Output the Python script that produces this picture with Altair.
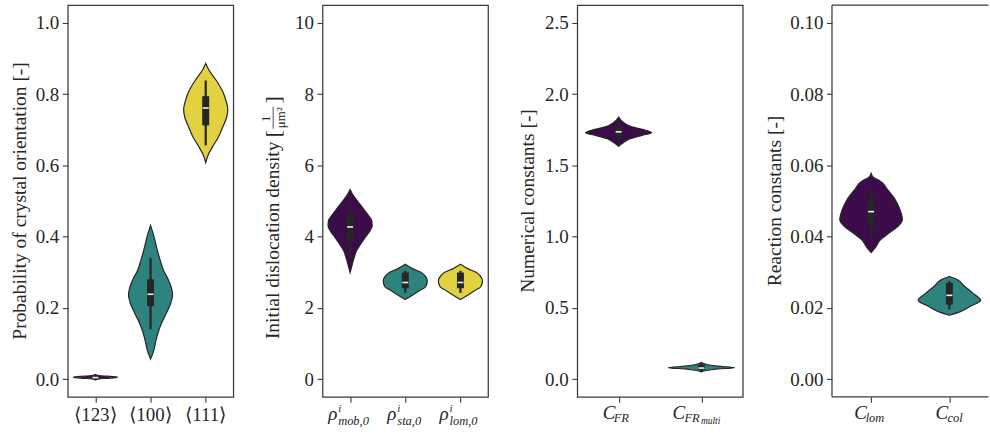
import altair as alt
import pandas as pd

FONT = "Liberation Serif"
INK = "#3a3a3a"
BOXC = "#262626"
TXT = "#262626"

# ---------------- data ----------------
# Panel 1 : crystal orientation probability
p1_cats = ["⟨123⟩", "⟨100⟩", "⟨111⟩"]
p1_colors = ["#3c0b4a", "#2f837f", "#e2d140"]
p1_123_v = [-0.003, 0.0, 0.002, 0.004, 0.005, 0.006, 0.008, 0.010, 0.013]
p1_123_w = [0.0, 0.15, 0.5, 0.9, 1.0, 0.9, 0.5, 0.15, 0.0]
p1_100_v = [0.056, 0.077, 0.101, 0.128, 0.156, 0.184, 0.212, 0.236, 0.259, 0.282, 0.306, 0.333, 0.361, 0.399, 0.431]
p1_100_w = [0.0, 0.13, 0.22, 0.33, 0.49, 0.71, 0.91, 1.0, 0.93, 0.78, 0.58, 0.44, 0.31, 0.16, 0.0]
p1_111_v = [0.608, 0.629, 0.651, 0.679, 0.707, 0.735, 0.757, 0.779, 0.807, 0.838, 0.866, 0.886]
p1_111_w = [0.0, 0.11, 0.30, 0.57, 0.77, 0.95, 1.0, 0.93, 0.77, 0.48, 0.16, 0.0]
p1_q1 = [0.002, 0.205, 0.712]
p1_med = [0.004, 0.238, 0.761]
p1_q3 = [0.007, 0.280, 0.794]
p1_lo = [0.000, 0.140, 0.656]
p1_hi = [0.010, 0.340, 0.838]
p1_ticks = [0.0, 0.2, 0.4, 0.6, 0.8, 1.0]
p1_title = "Probability of crystal orientation [-]"

# Panel 2 : initial dislocation density
p2_main = ["ρ", "ρ", "ρ"]
p2_sup = ["i", "i", "i"]
p2_sub = ["mob,0", "sta,0", "lom,0"]
p2_colors = ["#3c0b4a", "#2f837f", "#e2d140"]
p2_mob_v = [2.99, 3.2, 3.4, 3.6, 3.8, 4.0, 4.15, 4.3, 4.45, 4.6, 4.8, 5.0, 5.2, 5.32]
p2_mob_w = [0.0, 0.09, 0.18, 0.29, 0.49, 0.71, 0.89, 1.0, 0.98, 0.82, 0.58, 0.33, 0.10, 0.0]
p2_sta_v = [2.23, 2.33, 2.47, 2.6, 2.76, 2.9, 3.0, 3.1, 3.22]
p2_sta_w = [0.0, 0.27, 0.62, 0.93, 1.0, 0.89, 0.71, 0.33, 0.0]
p2_lom_v = [2.23, 2.33, 2.47, 2.6, 2.76, 2.9, 3.0, 3.1, 3.22]
p2_lom_w = [0.0, 0.27, 0.62, 0.93, 1.0, 0.89, 0.71, 0.33, 0.0]
p2_q1 = [3.87, 2.55, 2.55]
p2_med = [4.27, 2.71, 2.71]
p2_q3 = [4.60, 2.99, 2.99]
p2_lo = [3.39, 2.42, 2.42]
p2_hi = [4.93, 3.04, 3.04]
p2_ticks = [0, 2, 4, 6, 8, 10]
p2_title = "Initial dislocation density"
p2_unit = ["[", "1", "μm²", "]"]

# Panel 3 : numerical constants
p3_main = ["C", "C"]
p3_sub = ["FR", "FR"]
p3_subsub = ["", "multi"]
p3_colors = ["#3c0b4a", "#2f837f"]
p3_fr_v = [1.633, 1.66, 1.687, 1.71, 1.728, 1.75, 1.77, 1.80, 1.838]
p3_fr_w = [0.0, 0.15, 0.34, 0.70, 1.0, 0.75, 0.40, 0.15, 0.0]
p3_multi_v = [0.05, 0.06, 0.07, 0.08, 0.09, 0.10, 0.116]
p3_multi_w = [0.0, 0.15, 0.45, 1.0, 0.5, 0.2, 0.0]
p3_q1 = [1.70, 0.065]
p3_med = [1.735, 0.077]
p3_q3 = [1.765, 0.100]
p3_lo = [1.665, 0.055]
p3_hi = [1.80, 0.112]
p3_ticks = [0.0, 0.5, 1.0, 1.5, 2.0, 2.5]
p3_title = "Numerical constants [-]"

# Panel 4 : reaction constants
p4_main = ["C", "C"]
p4_sub = ["lom", "col"]
p4_colors = ["#3c0b4a", "#2f837f"]
p4_lom_v = [0.0355, 0.0371, 0.039, 0.0409, 0.0428, 0.0447, 0.0474, 0.0502, 0.053, 0.0558, 0.0565, 0.0577]
p4_lom_w = [0.0, 0.15, 0.29, 0.56, 0.85, 1.0, 0.93, 0.78, 0.54, 0.25, 0.09, 0.0]
p4_col_v = [0.0179, 0.019, 0.0205, 0.0221, 0.0242, 0.026, 0.0279, 0.0288]
p4_col_w = [0.0, 0.37, 0.69, 1.0, 0.74, 0.49, 0.25, 0.0]
p4_q1 = [0.0428, 0.0209]
p4_med = [0.0470, 0.0235]
p4_q3 = [0.0507, 0.0270]
p4_lo = [0.0395, 0.0195]
p4_hi = [0.0535, 0.0275]
p4_ticks = [0.0, 0.02, 0.04, 0.06, 0.08, 0.10]
p4_title = "Reaction constants [-]"

# ---------------- layout ----------------
H = 393
TS = 19.5   # title size
SS = 12.5   # script size


def prof_df(vs, ws):
    rows = []
    for i, (v, w) in enumerate(zip(vs, ws)):
        for a, b in zip(v, w):
            rows.append({"idx": i, "v": a, "w": b})
    return pd.DataFrame(rows)


def stat_df(q1, med, q3, lo, hi):
    return pd.DataFrame({"idx": list(range(len(q1))), "q1": q1, "med": med,
                         "q3": q3, "lo": lo, "hi": hi})


def one(text):
    return pd.DataFrame({"t": [text]})


def panel(width, ncat, prof, stats, colors, ydom, yticks, yfmt, extra, last=False):
    xs = alt.Scale(domain=[-0.5, ncat - 0.5], nice=False, zero=False)
    ys = alt.Scale(domain=ydom, nice=False, zero=False)
    xax = alt.Axis(values=list(range(ncat)), labels=False, ticks=True, domain=False,
                   grid=False, title=None)
    yax = alt.Axis(values=yticks, format=yfmt, domain=False, grid=False, title=None)
    X = lambda f: alt.X(f, scale=xs, axis=xax)
    Y = lambda f: alt.Y(f, scale=ys, axis=yax)

    area = alt.Chart(prof).transform_calculate(
        x1="datum.idx - 0.4 * datum.w", x2="datum.idx + 0.4 * datum.w"
    ).mark_area(orient="horizontal", interpolate="monotone", stroke=BOXC,
                strokeWidth=1.2, opacity=1, clip=last).encode(
        y=Y("v:Q"), x=X("x1:Q"), x2="x2:Q",
        color=alt.Color("idx:N", scale=alt.Scale(domain=list(range(ncat)), range=colors), legend=None),
    )
    whisk = alt.Chart(stats).mark_rule(strokeWidth=2.2, color=BOXC).encode(
        x=X("idx:Q"), y=Y("lo:Q"), y2="hi:Q")
    box = alt.Chart(stats).mark_rule(strokeWidth=7, color=BOXC, strokeCap="butt").encode(
        x=X("idx:Q"), y=Y("q1:Q"), y2="q3:Q")
    med = alt.Chart(stats).mark_point(shape="M-1,0L1,0", size=36, filled=False,
                                      stroke="#f2f2f2", strokeWidth=1.6, opacity=1).encode(
        x=X("idx:Q"), y=Y("med:Q"))
    layers = [area, whisk, box, med]
    for e in extra:
        layers.append(e(X))
    return alt.layer(*layers).properties(width=width, height=H)


def ytitle(text, xpx, ypx=H / 2, size=TS):
    return lambda X: alt.Chart(one(text)).mark_text(
        angle=270, align="center", baseline="middle", font=FONT, fontSize=size, color=TXT
    ).encode(x=alt.value(xpx), y=alt.value(ypx), text="t:N")


def xlabel(idx, text, dx, ypx, size=19, italic=False, align="left"):
    def f(X):
        d = pd.DataFrame({"idx": [idx], "t": [text]})
        return alt.Chart(d).mark_text(
            align=align, baseline="alphabetic", dx=dx, font=FONT, fontSize=size,
            fontStyle="italic" if italic else "normal", color=TXT
        ).encode(x=X("idx:Q"), y=alt.value(ypx), text="t:N")
    return f


# Panel 1
p1_extra = [ytitle(p1_title, -48)]
for i, c in enumerate(p1_cats):
    p1_extra.append(xlabel(i, c, 0, 417, align="center"))
c1 = panel(166, 3, prof_df([p1_123_v, p1_100_v, p1_111_v], [p1_123_w, p1_100_w, p1_111_w]),
           stat_df(p1_q1, p1_med, p1_q3, p1_lo, p1_hi), p1_colors, [-0.05, 1.05], p1_ticks, ".1f",
           p1_extra)

# Panel 2
p2_extra = [ytitle(p2_title, -49.5, 236)]
# unit bracket and fraction (rotated)
p2_extra.append(ytitle(p2_unit[0], -49.5, 129, 22))
p2_extra.append(ytitle(p2_unit[1], -56.5, 114, 13))
p2_extra.append(ytitle(p2_unit[2], -42, 113, 13))
p2_extra.append(lambda X: alt.Chart(one("")).mark_rule(color=TXT, strokeWidth=0.8).encode(
    x=alt.value(-49.5), y=alt.value(102), y2=alt.value(124)))
p2_extra.append(ytitle(p2_unit[3], -49.5, 95, 22))
p2_dx = [(-22, -12), (-18, -8), (-21, -11)]
for i in range(3):
    p2_extra.append(xlabel(i, p2_main[i], p2_dx[i][0], 416, 19, True))
    p2_extra.append(xlabel(i, p2_sup[i], p2_dx[i][1], 408, 11, True))
    p2_extra.append(xlabel(i, p2_sub[i], p2_dx[i][1], 421.5, SS, True))
c2 = panel(166, 3, prof_df([p2_mob_v, p2_sta_v, p2_lom_v], [p2_mob_w, p2_sta_w, p2_lom_w]),
           stat_df(p2_q1, p2_med, p2_q3, p2_lo, p2_hi), p2_colors, [-0.5, 10.5], p2_ticks, "d",
           p2_extra)

# Panel 3
p3_extra = [ytitle(p3_title, -49)]
p3_dx = [(-16, -5, 0), (-29, -17, -0.5)]
for i in range(2):
    p3_extra.append(xlabel(i, p3_main[i], p3_dx[i][0], 415, 19, True))
    p3_extra.append(xlabel(i, p3_sub[i], p3_dx[i][1], 418.5, SS, True))
    if p3_subsub[i]:
        p3_extra.append(xlabel(i, p3_subsub[i], p3_dx[i][2], 420.5, 9.5, True))
c3 = panel(166, 2, prof_df([p3_fr_v, p3_multi_v], [p3_fr_w, p3_multi_w]),
           stat_df(p3_q1, p3_med, p3_q3, p3_lo, p3_hi), p3_colors, [-0.125, 2.625], p3_ticks, ".1f",
           p3_extra)

# Panel 4 (its right edge runs past the window, so no right frame line is drawn)
W4 = 157
p4_extra = [ytitle(p4_title, -57)]
p4_dx = [(-17, -5.5), (-14, -2)]
for i in range(2):
    p4_extra.append(xlabel(i, p4_main[i], p4_dx[i][0], 415, 19, True))
    p4_extra.append(xlabel(i, p4_sub[i], p4_dx[i][1], 418, SS, True))
frame = lambda X: alt.Chart(one("")).mark_rule(color=INK, strokeWidth=1.25).encode(
    x=alt.value(0), x2=alt.value(W4), y=alt.value(0))
frame_l = lambda X: alt.Chart(one("")).mark_rule(color=INK, strokeWidth=1.25).encode(
    x=alt.value(0), y=alt.value(0), y2=alt.value(H))
frame_b = lambda X: alt.Chart(one("")).mark_rule(color=INK, strokeWidth=1.25).encode(
    x=alt.value(0), x2=alt.value(W4), y=alt.value(H))
p4_extra += [frame, frame_l, frame_b]
c4 = panel(W4, 2, prof_df([p4_lom_v, p4_col_v], [p4_lom_w, p4_col_w]),
           stat_df(p4_q1, p4_med, p4_q3, p4_lo, p4_hi), p4_colors, [-0.005, 0.105], p4_ticks, ".2f",
           p4_extra, last=True)
c4 = c4.properties(view=alt.ViewBackground(strokeOpacity=0))

chart = alt.hconcat(c1, c2, c3, c4, spacing=89.5, bounds="flush").properties(
    padding={"left": 9, "top": 3.4, "right": 0, "bottom": 0}
).configure_view(stroke=INK, strokeWidth=1.25).configure_axis(
    labelFont=FONT, labelFontSize=19, labelColor=TXT, tickColor=INK, tickSize=5.5,
    labelPadding=3.5, tickWidth=1.1
)

chart.save("out.html", embed_options={"renderer": "svg", "actions": False})
